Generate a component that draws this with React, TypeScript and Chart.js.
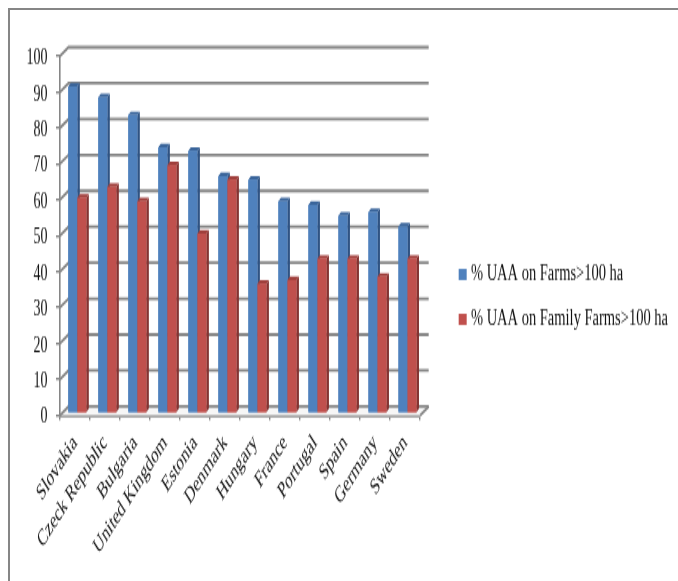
import React, { useEffect, useRef } from "react";
import { Chart, registerables } from "chart.js";

Chart.register(...registerables);

const categories = ["Slovakia", "Czeck Republic", "Bulgaria", "United Kingdom", "Estonia", "Denmark", "Hungary", "France", "Portugal", "Spain", "Germany", "Sweden"];
const farmsShare = [91, 88, 83, 74, 73, 66, 65, 59, 58, 55, 56, 52];
const familyFarmsShare = [60, 63, 59, 69, 50, 65, 36, 37, 43, 43, 38, 43];
const seriesNames = ["% UAA on Farms>100 ha", "% UAA on Family Farms>100 ha"];
const frontColors = ["#4F81BD", "#C0504D"];
const sideColors = ["#2F5383", "#843331"];
const capColors = ["#3A659B", "#A03F3C"];

const WIDTH = 678;
const HEIGHT = 363;
const STRETCH = 581 / HEIGHT;
const GRID = "#868686";
const SERIF = "'Liberation Serif', serif";

const WALL_DX = 8.5;
const WALL_DY = 5.5;
const BAR_DX = 2.3;
const BAR_DY = 1.3;
const SIDE_W = 2.5;
const CAP_H = 2.2;

const depthPlugin = {
  id: "depth",
  beforeDatasetsDraw(chart: any) {
    const { ctx, chartArea: a, scales } = chart;
    const y = scales.y;
    ctx.save();
    ctx.fillStyle = "#F6F6F6";
    ctx.beginPath();
    ctx.moveTo(a.left, a.bottom);
    ctx.lineTo(a.left + WALL_DX, a.bottom - WALL_DY);
    ctx.lineTo(a.right + WALL_DX, a.bottom - WALL_DY);
    ctx.lineTo(a.right, a.bottom);
    ctx.closePath();
    ctx.fill();
    ctx.strokeStyle = GRID;
    ctx.lineWidth = 1.8;
    y.ticks.forEach((t: any) => {
      const py = y.getPixelForValue(t.value);
      ctx.beginPath();
      ctx.moveTo(a.left, py);
      ctx.lineTo(a.left + WALL_DX, py - WALL_DY);
      ctx.lineTo(a.right + WALL_DX, py - WALL_DY);
      ctx.stroke();
    });
    ctx.beginPath();
    ctx.moveTo(a.right, a.bottom);
    ctx.lineTo(a.right + WALL_DX, a.bottom - WALL_DY);
    ctx.stroke();
    ctx.restore();
    // the bars stand on a plane a little behind the front of the floor
    ctx.save();
    ctx.translate(BAR_DX, -BAR_DY);
  },
  afterDatasetsDraw(chart: any) {
    const { ctx } = chart;
    chart.data.datasets.forEach((_: any, i: number) => {
      chart.getDatasetMeta(i).data.forEach((el: any) => {
        const { x, y, base, width } = el.getProps(["x", "y", "base", "width"], true);
        const r = x + width / 2;
        const l = x - width / 2;
        ctx.fillStyle = sideColors[i];
        ctx.beginPath();
        ctx.moveTo(r, base);
        ctx.lineTo(r + SIDE_W, base - CAP_H);
        ctx.lineTo(r + SIDE_W, y - CAP_H);
        ctx.lineTo(r, y);
        ctx.closePath();
        ctx.fill();
        ctx.fillStyle = capColors[i];
        ctx.beginPath();
        ctx.moveTo(l, y);
        ctx.lineTo(l + SIDE_W, y - CAP_H);
        ctx.lineTo(r + SIDE_W, y - CAP_H);
        ctx.lineTo(r, y);
        ctx.closePath();
        ctx.fill();
        el.draw(ctx);
      });
    });
    ctx.restore();
  },
};

export default function App() {
  const ref = useRef<HTMLCanvasElement | null>(null);
  useEffect(() => {
    const chart = new Chart(ref.current as HTMLCanvasElement, {
      type: "bar",
      data: {
        labels: categories,
        datasets: [
          { label: seriesNames[0], data: farmsShare, backgroundColor: frontColors[0], categoryPercentage: 0.6, barPercentage: 1 },
          { label: seriesNames[1], data: familyFarmsShare, backgroundColor: frontColors[1], categoryPercentage: 0.6, barPercentage: 1 },
        ],
      },
      plugins: [depthPlugin],
      options: {
        responsive: false,
        animation: false,
        devicePixelRatio: 1,
        layout: { padding: { top: 8, left: 0, right: 0, bottom: 0 } },
        plugins: {
          tooltip: { enabled: false },
          title: { display: false },
          legend: {
            display: true,
            position: "right",
            align: "center",
            maxWidth: 300,
            labels: {
              boxWidth: 2,
              boxHeight: 1,
              padding: 13.5,
              color: "#111",
              font: { family: SERIF, size: 14.5 },
              generateLabels(c: any) {
                return Chart.defaults.plugins.legend.labels
                  .generateLabels(c)
                  .map((item: any) => ({ ...item, lineWidth: 6, strokeStyle: item.fillStyle }));
              },
            },
          },
        },
        scales: {
          x: {
            type: "category",
            offset: true,
            afterFit(s: any) { s.height = 103.6; },
            border: { display: true, color: GRID, width: 1.8 },
            grid: { display: true, drawOnChartArea: false, drawTicks: true, tickLength: 3, color: GRID, lineWidth: 1.4, offset: true },
            ticks: { autoSkip: false, minRotation: 45, maxRotation: 45, padding: 6, color: "#111", font: { family: SERIF, size: 14.5 } },
          },
          y: {
            type: "linear",
            min: 0,
            max: 100,
            afterFit(s: any) { s.width = 60; },
            border: { display: true, color: GRID, width: 1.6 },
            grid: { display: true, drawOnChartArea: false, drawTicks: true, tickLength: 4, color: GRID, lineWidth: 1.4 },
            ticks: { stepSize: 10, padding: 8.5, labelOffset: 1.4, color: "#111", font: { family: SERIF, size: 14 } },
          },
          spacer: {
            type: "linear",
            position: "right",
            display: true,
            min: 0,
            max: 1,
            afterFit(s: any) { s.width = 28; },
            border: { display: false },
            grid: { display: false, drawTicks: false },
            ticks: { display: false },
          },
          topSpacer: {
            type: "linear",
            axis: "x",
            position: "top",
            display: true,
            min: 0,
            max: 1,
            afterFit(s: any) { s.height = 27; },
            border: { display: false },
            grid: { display: false, drawTicks: false },
            ticks: { display: false },
          },
        },
      } as any,
    });
    return () => chart.destroy();
  }, []);
  return (
    <div style={{ position: "fixed", left: 0, top: 0, width: 678, height: 581, overflow: "hidden", background: "#fff" }}>
      <canvas
        ref={ref}
        width={WIDTH}
        height={HEIGHT}
        style={{ position: "absolute", left: 0, top: 0, width: WIDTH, height: HEIGHT, transform: `scale(1, ${STRETCH})`, transformOrigin: "0 0", filter: "blur(0.4px)" }}
      />
      <div style={{ position: "absolute", left: 8, top: 8, width: 678, height: 581, borderTop: "2px solid #868686", borderLeft: "2px solid #868686" }} />
    </div>
  );
}
